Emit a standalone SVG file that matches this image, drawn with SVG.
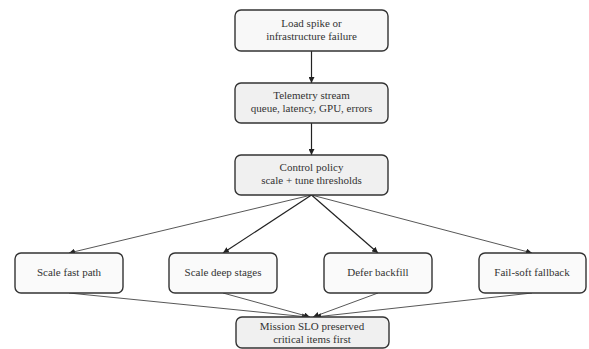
<svg xmlns="http://www.w3.org/2000/svg" width="589" height="349" viewBox="0 0 589 349">
<style>
.box{stroke:#333;stroke-width:1.4}
.t{font-family:"Liberation Serif","DejaVu Serif",serif;font-size:11px;fill:#333;text-anchor:middle}
.e{fill:none;stroke:#222;stroke-width:1.2}
.e2{fill:none;stroke:#444;stroke-width:0.9}
</style>
<defs>
<marker id="ah" viewBox="0 0 10 10" refX="10" refY="5" markerWidth="6" markerHeight="6" markerUnits="userSpaceOnUse" orient="auto"><path d="M0,0 L10,5 L0,10 z" fill="#222"/></marker>
</defs>
<g id="connectors">
<path class="e" d="M311.5,51 L311.5,83" marker-end="url(#ah)"/>
<path class="e" d="M311.5,123 L311.5,155" marker-end="url(#ah)"/>
<path class="e2" d="M311.5,195 L69,253" marker-end="url(#ah)"/>
<path class="e" d="M311.5,195 L223,253" marker-end="url(#ah)"/>
<path class="e" d="M311.5,195 L378,253" marker-end="url(#ah)"/>
<path class="e2" d="M311.5,195 L532,253" marker-end="url(#ah)"/>
<path class="e2" d="M69,293 L308,317" marker-end="url(#ah)"/>
<path class="e2" d="M223,293 L310,317" marker-end="url(#ah)"/>
<path class="e2" d="M378,293 L313,317" marker-end="url(#ah)"/>
<path class="e2" d="M532,293 L315,317" marker-end="url(#ah)"/>
</g>
<g id="n1"><rect class="box" x="235" y="10" width="153" height="41" rx="6" fill="#f8f8f8"/><text class="t" x="311.5" y="27">Load spike or</text><text class="t" x="311.5" y="40">infrastructure failure</text></g>
<g id="n2"><rect class="box" x="235" y="83" width="153" height="40" rx="6" fill="#f0f0f0"/><text class="t" x="311.5" y="99">Telemetry stream</text><text class="t" x="311.5" y="112">queue, latency, GPU, errors</text></g>
<g id="n3"><rect class="box" x="235" y="155" width="153" height="40" rx="6" fill="#f0f0f0"/><text class="t" x="311.5" y="171">Control policy</text><text class="t" x="311.5" y="184">scale + tune thresholds</text></g>
<g id="n4"><rect class="box" x="15" y="253" width="108" height="40" rx="6" fill="#fafafa"/><text class="t" x="69" y="276">Scale fast path</text></g>
<g id="n5"><rect class="box" x="169" y="253" width="108" height="40" rx="6" fill="#fafafa"/><text class="t" x="223" y="276">Scale deep stages</text></g>
<g id="n6"><rect class="box" x="324" y="253" width="108" height="40" rx="6" fill="#fafafa"/><text class="t" x="378" y="276">Defer backfill</text></g>
<g id="n7"><rect class="box" x="479" y="253" width="107" height="40" rx="6" fill="#fafafa"/><text class="t" x="532" y="276">Fail-soft fallback</text></g>
<g id="n8"><rect class="box" x="236" y="317" width="153" height="31" rx="6" fill="#f0f0f0"/><text class="t" x="312" y="330">Mission SLO preserved</text><text class="t" x="312" y="343">critical items first</text></g>
</svg>
